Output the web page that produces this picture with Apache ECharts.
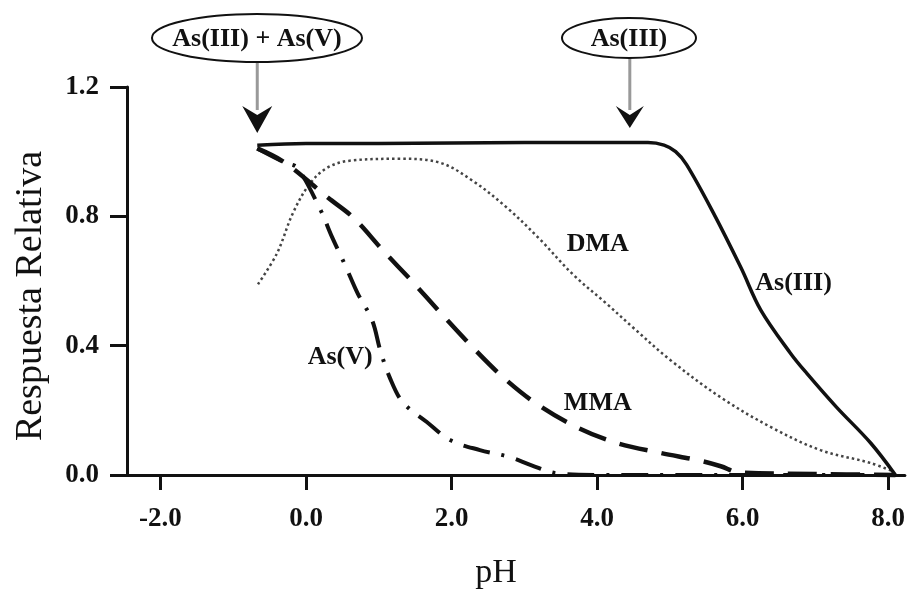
<!DOCTYPE html>
<html><head><meta charset="utf-8">
<script src="https://cdn.jsdelivr.net/npm/echarts@6/dist/echarts.min.js"></script>
<style>html,body{margin:0;padding:0;background:#fff}#c{width:908px;height:590px}</style>
</head><body><div id="c"></div>
<script>
// ---- data ----
const xTickValues = [-2, 0, 2, 4, 6, 8];
const yTickValues = [0, 0.4, 0.8, 1.2];

const as3PH  = [-0.67, 0, 1, 2, 3, 4, 4.7, 4.92, 5.08, 5.23, 5.6, 5.98, 6.25, 6.66, 6.88, 7.29, 7.76, 8.1];
const as3Val = [1.02, 1.025, 1.025, 1.027, 1.028, 1.028, 1.028, 1.02, 1.0, 0.96, 0.81, 0.64, 0.51, 0.376, 0.315, 0.21, 0.099, 0.0];

const dmaPH  = [-0.66, -0.4, -0.18, 0.05, 0.29, 0.6, 1.29, 1.84, 2.29, 2.76, 3.21, 3.67, 4.13, 4.49, 5.01, 5.7, 6.39, 7.07, 7.76, 8.08];
const dmaVal = [0.59, 0.685, 0.81, 0.90, 0.95, 0.972, 0.978, 0.966, 0.91, 0.827, 0.73, 0.62, 0.53, 0.457, 0.355, 0.24, 0.148, 0.077, 0.037, 0.01];

const mmaPH  = [-0.67, -0.29, 0.3, 0.65, 1.06, 1.47, 1.88, 2.29, 2.72, 3.17, 3.72, 4.27, 4.88, 5.4, 5.7, 5.95, 7.0, 8.1];
const mmaVal = [1.01, 0.966, 0.858, 0.796, 0.694, 0.596, 0.494, 0.395, 0.30, 0.22, 0.148, 0.099, 0.068, 0.045, 0.027, 0.008, 0.003, 0.0];

const as5PH  = [-0.67, -0.29, -0.12, 0.19, 0.36, 0.54, 0.71, 0.91, 1.02, 1.15, 1.33, 1.66, 1.98, 2.39, 2.79, 3.1, 3.45, 4.0, 5.0, 6.0, 7.0, 8.0];
const as5Val = [1.01, 0.966, 0.95, 0.824, 0.735, 0.648, 0.562, 0.478, 0.386, 0.302, 0.225, 0.164, 0.108, 0.077, 0.056, 0.03, 0.005, 0, 0, 0, 0, 0];

// curve labels [text, pH, value]
const curveLabels = [["DMA", 4.01, 0.713], ["As(III)", 6.7, 0.593], ["MMA", 4.01, 0.222], ["As(V)", 0.47, 0.364]];
// callouts [text, pH of arrow]
const callouts = [["As(III) + As(V)", -0.67], ["As(III)", 4.45]];

const xName = "pH";
const yName = "Respuesta Relativa";

// ---- chart ----
const FONT = "'Liberation Serif','Times New Roman',serif";
const zip = (a, b) => a.map((v, i) => [v, b[i]]);
const chart = echarts.init(document.getElementById('c'));

const baseLine = (name, xs, ys, lineStyle) => ({
  name, type: 'line', data: zip(xs, ys), showSymbol: false, symbol: 'none',
  smooth: 0.35, clip: false, lineStyle, z: 3
});

chart.setOption({
  animation: false,
  backgroundColor: '#fff',
  grid: { left: 127, right: 3, top: 87, bottom: 115, containLabel: false },
  xAxis: {
    type: 'value', min: -2.46, max: 8.23,
    splitLine: { show: false },
    axisLine: { show: true, onZero: false, lineStyle: { color: '#111', width: 3 } },
    axisTick: { show: true, customValues: xTickValues, length: 15, lineStyle: { color: '#111', width: 3 } },
    axisLabel: { customValues: xTickValues, margin: 31, color: '#111', fontFamily: FONT, fontWeight: 'bold', fontSize: 27,
      formatter: v => v.toFixed(1) }
  },
  yAxis: {
    type: 'value', min: 0, max: 1.2, interval: 0.4,
    splitLine: { show: false },
    axisLine: { show: true, onZero: false, lineStyle: { color: '#111', width: 3 } },
    axisTick: { show: true, length: 17, lineStyle: { color: '#111', width: 3 } },
    axisLabel: { margin: 28, color: '#111', fontFamily: FONT, fontWeight: 'bold', fontSize: 27,
      formatter: v => v.toFixed(1) }
  },
  series: [
    baseLine('DMA', dmaPH, dmaVal, { color: '#444', width: 2.5, type: [2.5, 3] }),
    baseLine('As(V)', as5PH, as5Val, { color: '#111', width: 4, type: [27, 12, 3, 12] }),
    baseLine('MMA', mmaPH, mmaVal, { color: '#111', width: 4.5, type: [29, 14] }),
    baseLine('As(III)', as3PH, as3Val, { color: '#111', width: 3.5, type: 'solid' })
  ]
});

const px = (x, y) => chart.convertToPixel({ gridIndex: 0 }, [x, y]);
const g = [];
// axis titles
g.push({ type: 'text', x: 31, y: 296, rotation: Math.PI / 2,
  style: { text: yName, font: `38px ${FONT}`, fill: '#111', align: 'center', verticalAlign: 'middle' } });
g.push({ type: 'text', x: 496, y: 573,
  style: { text: xName, font: `34px ${FONT}`, fill: '#111', align: 'center', verticalAlign: 'middle' } });
// curve labels
curveLabels.forEach(([t, x, y]) => {
  const p = px(x, y);
  g.push({ type: 'text', x: p[0], y: p[1], z: 10,
    style: { text: t, font: `bold 26px ${FONT}`, fill: '#111', align: 'center', verticalAlign: 'middle' } });
});
// callouts
const calloutGeom = [
  { cx: 257, rx: 105, ry: 24, cy: 38, shaftTop: 62, headBack: 106, headTip: 133, hw: 15 },
  { cx: 629, rx: 67, ry: 20, cy: 38, shaftTop: 58, headBack: 106, headTip: 128, hw: 14 }
];
callouts.forEach(([t, xph], i) => {
  const c = calloutGeom[i];
  const ax = px(xph, 0)[0];
  g.push({ type: 'ellipse', z: 10, shape: { cx: c.cx, cy: c.cy, rx: c.rx, ry: c.ry },
    style: { fill: '#fff', stroke: '#111', lineWidth: 2 } });
  g.push({ type: 'text', x: c.cx, y: c.cy + 1, z: 11,
    style: { text: t, font: `bold 26px ${FONT}`, fill: '#111', align: 'center', verticalAlign: 'middle' } });
  g.push({ type: 'line', z: 9, shape: { x1: ax, y1: c.shaftTop, x2: ax, y2: c.headBack + 4 },
    style: { stroke: '#999', lineWidth: 3 } });
  g.push({ type: 'polygon', z: 10,
    shape: { points: [[ax - c.hw, c.headBack], [ax, c.headBack + 9], [ax + c.hw, c.headBack], [ax, c.headTip]] },
    style: { fill: '#111' } });
});
chart.setOption({ graphic: g });
</script>
</body></html>
